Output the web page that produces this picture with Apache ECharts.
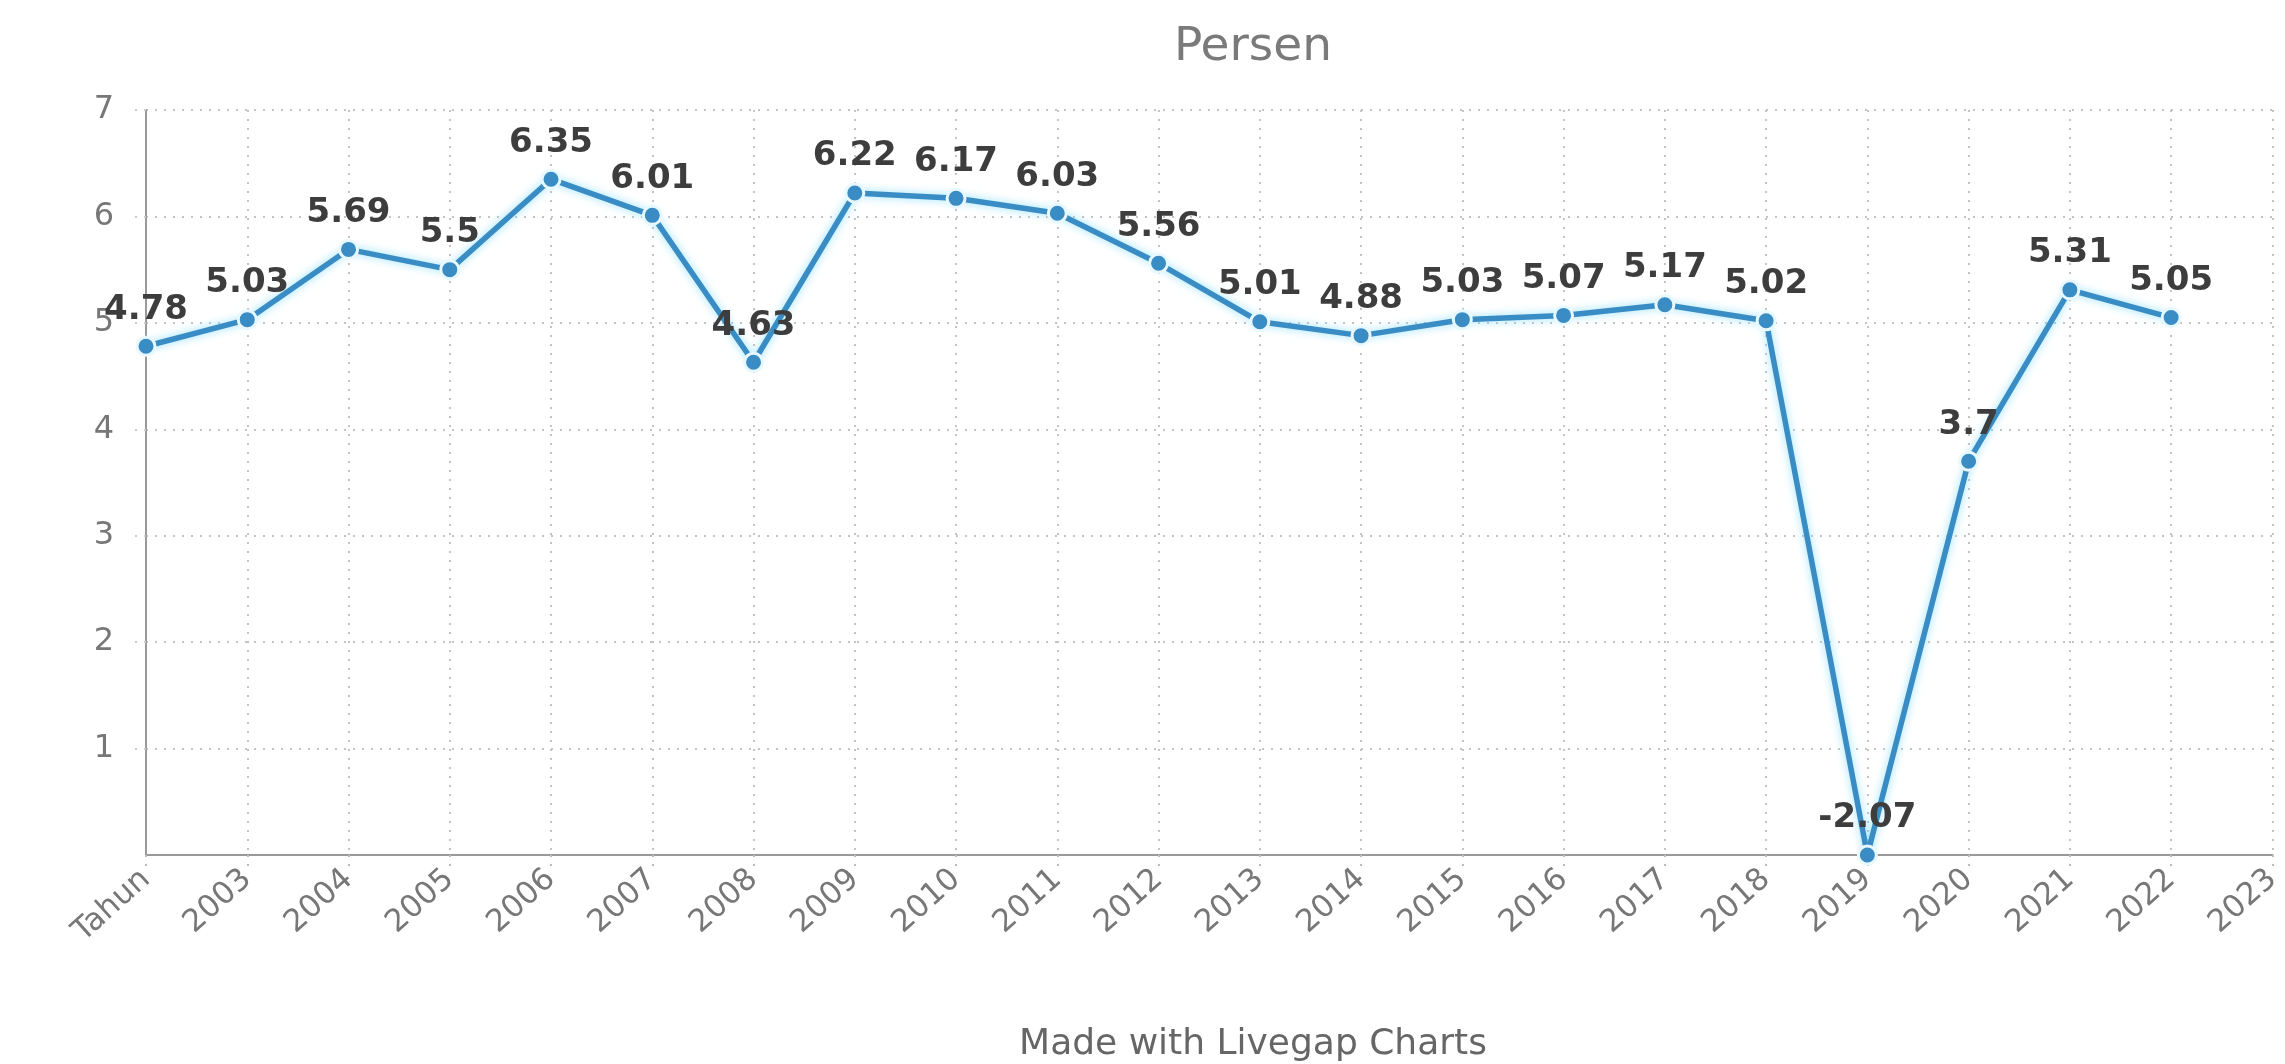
<!DOCTYPE html>
<html lang="id">
<head>
    <meta charset="UTF-8">
    <title>Persen</title>
    <script src="https://cdn.jsdelivr.net/npm/echarts@6/dist/echarts.min.js"></script>
</head>
<body style="margin:0;background:#fff;">
<div id="myChart" style="width: 2285px;height: 1064px;"></div>

<script>
    // kategori sumbu x
    var categories = ['Tahun', '2003', '2004', '2005', '2006', '2007', '2008', '2009', '2010', '2011',
        '2012', '2013', '2014', '2015', '2016', '2017', '2018', '2019', '2020', '2021', '2022', '2023'];
    // nilai persen
    var values = [4.78, 5.03, 5.69, 5.5, 6.35, 6.01, 4.63, 6.22, 6.17, 6.03, 5.56,
        5.01, 4.88, 5.03, 5.07, 5.17, 5.02, -2.07, 3.7, 5.31, 5.05];
    var yMin = 0, yMax = 7, yStep = 1;

    var font = 'DejaVu Sans';
    var myChart = echarts.init(document.getElementById('myChart'));

    // nilai di bawah sumbu digambar di garis 0 (seperti grafik aslinya), labelnya tetap nilai asli
    var seriesData = values.map(function (v) {
        return {value: Math.max(v, yMin), label: {formatter: String(v)}};
    });

    var gridDots = {color: '#c4c4c4', type: [2, 7], width: 2};

    var option = {
        backgroundColor: '#fff',
        animation: false,
        graphic: [{
            type: 'text',
            x: 1253,
            y: 48,
            style: {
                text: 'Persen', font: '47px "DejaVu Sans"', fill: '#7a7a7a',
                textAlign: 'center', textVerticalAlign: 'middle'
            }
        }, {
            type: 'text',
            x: 1253,
            y: 1045,
            style: {
                text: 'Made with Livegap Charts', font: '36px "DejaVu Sans"', fill: '#666',
                textAlign: 'center', textVerticalAlign: 'middle'
            }
        }],
        grid: {left: 146, right: -7, top: 110, bottom: 209, containLabel: false},
        xAxis: {
            type: 'category',
            boundaryGap: false,
            data: categories,
            axisLine: {lineStyle: {color: '#999', width: 2}},
            axisTick: {show: true, length: 15, lineStyle: {color: '#bbb', type: [2, 7], width: 2}},
            axisLabel: {rotate: 42, margin: 20, fontFamily: font, fontSize: 31, color: '#777', interval: 0},
            splitLine: {show: true, lineStyle: gridDots}
        },
        yAxis: {
            type: 'value',
            min: yMin,
            max: yMax,
            interval: yStep,
            axisLine: {show: true, lineStyle: {color: '#999', width: 2}},
            axisTick: {show: true, length: 18, lineStyle: {color: '#ccc', type: [2, 7], width: 2}},
            axisLabel: {showMinLabel: false, margin: 32, fontFamily: font, fontSize: 32, color: '#777'},
            splitLine: {show: true, lineStyle: gridDots}
        },
        series: [{
            name: 'Persen',
            type: 'line',
            data: seriesData,
            symbol: 'circle',
            symbolSize: 18,
            clip: false,
            lineStyle: {color: '#3a8cc4', width: 5.5, shadowColor: 'rgba(110,215,255,0.75)', shadowBlur: 9},
            itemStyle: {color: '#3a8cc4', borderColor: '#e8f8ff', borderWidth: 3},
            label: {
                show: true,
                position: 'top',
                distance: 9,
                fontFamily: font,
                fontSize: 34,
                fontWeight: 'bold',
                color: '#3d3d3d'
            }
        }]
    };

    myChart.setOption(option);
</script>
</body>
</html>
